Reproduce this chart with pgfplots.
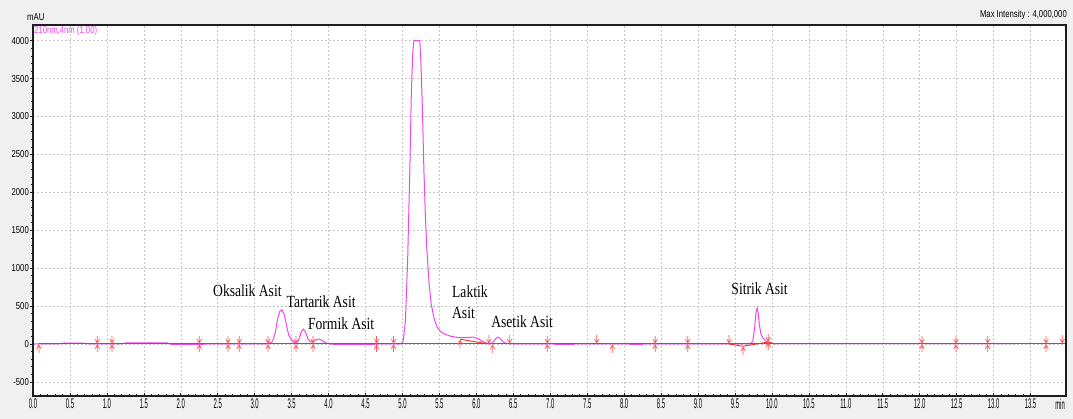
\documentclass[border=0pt]{standalone}
\usepackage{pgfplots}
\pgfplotsset{compat=1.18}
\usepackage{fontspec}
\setmainfont{Liberation Sans}
\newfontfamily\lblfont[FakeStretch=0.77]{Liberation Sans}
\newfontfamily\xlblfont[FakeStretch=0.42]{Liberation Sans}
\newfontfamily\annfont[FakeStretch=0.8]{Liberation Serif}

\definecolor{trace}{RGB}{240,70,240}
\definecolor{basered}{RGB}{255,40,40}
\definecolor{evred}{RGB}{255,90,90}
\definecolor{panel}{RGB}{240,240,240}
\definecolor{gridgray}{RGB}{200,200,200}
\definecolor{framecol}{RGB}{30,30,30}

% integration event marks: both directions, upward only, downward only
\pgfdeclareplotmark{evboth}{%
  \pgfpathmoveto{\pgfpoint{0pt}{-8pt}}\pgfpathlineto{\pgfpoint{0pt}{8pt}}%
  \pgfpathmoveto{\pgfpoint{-2.3pt}{5pt}}\pgfpathlineto{\pgfpoint{0pt}{1pt}}\pgfpathlineto{\pgfpoint{2.3pt}{5pt}}%
  \pgfpathmoveto{\pgfpoint{-2.3pt}{-5pt}}\pgfpathlineto{\pgfpoint{0pt}{-1pt}}\pgfpathlineto{\pgfpoint{2.3pt}{-5pt}}%
  \pgfusepathqstroke}
\pgfdeclareplotmark{evup}{%
  \pgfpathmoveto{\pgfpoint{0pt}{-9pt}}\pgfpathlineto{\pgfpoint{0pt}{-1pt}}%
  \pgfpathmoveto{\pgfpoint{-2.3pt}{-5pt}}\pgfpathlineto{\pgfpoint{0pt}{-1pt}}\pgfpathlineto{\pgfpoint{2.3pt}{-5pt}}%
  \pgfusepathqstroke}
\pgfdeclareplotmark{evdown}{%
  \pgfpathmoveto{\pgfpoint{0pt}{9pt}}\pgfpathlineto{\pgfpoint{0pt}{1pt}}%
  \pgfpathmoveto{\pgfpoint{-2.3pt}{5pt}}\pgfpathlineto{\pgfpoint{0pt}{1pt}}\pgfpathlineto{\pgfpoint{2.3pt}{5pt}}%
  \pgfusepathqstroke}

\begin{document}
\begin{tikzpicture}
\fill[panel] (-33pt,-23pt) rectangle (1040pt,396pt);
\begin{axis}[
  at={(0pt,0pt)}, anchor=south west,
  scale only axis, width=1033pt, height=371pt,
  xmin=0, xmax=13.98, ymin=-686, ymax=4207,
  clip mode=individual,
  axis background/.style={fill=white},
  axis line style={framecol, line width=1.4pt},
  xtick={0,0.5,...,13.5}, minor x tick num=4,
  ytick={-500,0,...,4000}, minor y tick num=4,
  xtick pos=left, ytick pos=left,
  tick align=inside,
  major tick length=3pt, minor tick length=2pt,
  tick style={framecol, line width=0.6pt},
  major y tick style={xshift=-3pt},
  minor y tick style={xshift=-2pt},
  grid=major,
  major grid style={gridgray, dash pattern=on 2pt off 2pt, line width=0.5pt},
  xticklabel style={font=\xlblfont\fontsize{14}{14}\selectfont, inner sep=1.5pt, yshift=-1.5pt,
    /pgf/number format/.cd, fixed, fixed zerofill, precision=1, assume math mode=true},
  yticklabel style={font=\lblfont\fontsize{10}{10}\selectfont, inner sep=1pt, xshift=-3pt,
    /pgf/number format/.cd, 1000 sep={}, assume math mode=true},
]
% chromatogram trace, 210 nm
\addplot[trace, line width=1pt] coordinates {
(0.00,2) (0.08,2) (0.36,3) (0.42,13) (0.66,12) (0.74,3) (1.20,3) (1.26,14) (1.82,13)
(1.88,-6) (2.28,-6) (2.34,0) (3.10,0) (3.18,4) (3.24,30) (3.28,150) (3.31,330) (3.34,430)
(3.37,450) (3.40,390) (3.43,250) (3.46,120) (3.50,50) (3.54,20) (3.57,20) (3.60,60)
(3.63,160) (3.66,195) (3.69,150) (3.72,70) (3.75,30) (3.78,25) (3.82,50) (3.86,65)
(3.89,60) (3.93,35) (3.97,10) (4.02,0) (4.10,-6) (4.60,-6) (4.66,0) (4.98,0) (5.01,40)
(5.04,300) (5.07,1100) (5.10,2300) (5.12,3300) (5.14,3850) (5.155,4000) (5.235,4000)
(5.25,3700) (5.27,3100) (5.29,2300) (5.31,1700) (5.33,1250) (5.36,800) (5.39,520)
(5.43,330) (5.47,220) (5.52,160) (5.58,125) (5.66,100) (5.76,85) (5.86,85) (5.96,90)
(6.02,70) (6.08,35) (6.14,10) (6.18,2) (6.22,15) (6.26,70) (6.29,90) (6.32,75) (6.36,30)
(6.40,8) (6.46,0) (7.05,0) (7.08,-5) (7.30,-5) (7.34,0) (8.06,0) (8.09,-5) (8.24,-5)
(8.27,0) (9.70,0) (9.74,30) (9.765,200) (9.785,420) (9.80,475) (9.815,400) (9.83,250)
(9.85,140) (9.88,75) (9.92,40) (9.96,20) (10.02,6) (10.10,4) (13.30,4)
};
% integration baselines
\addplot[basered, line width=1pt] coordinates {(0.08,0) (13.98,0)};
\addplot[basered, line width=0.9pt] coordinates {(5.78,62) (6.17,0)};
\addplot[basered, line width=0.9pt] coordinates {(9.42,0) (9.61,-30) (9.95,25) (10.05,0)};
% integration events
\addplot[only marks, mark=evboth, mark options={evred, line width=0.7pt}] coordinates {
(0.87,0) (1.07,0) (2.25,0) (2.64,0) (2.79,0) (3.18,0) (3.56,0) (3.79,0) (4.65,0) (4.88,0)
(6.96,0) (8.42,0) (8.86,0) (9.95,25) (12.03,0) (12.49,0) (12.92,0) (13.71,0)
};
\addplot[only marks, mark=evup, mark options={evred, line width=0.7pt}] coordinates {
(0.08,0) (5.78,62) (6.22,0) (7.84,0) (9.61,-30)
};
\addplot[only marks, mark=evdown, mark options={evred, line width=0.7pt}] coordinates {
(6.17,0) (6.45,0) (7.63,0) (9.42,0) (13.93,0)
};
% peak names
\begin{scope}[every node/.style={anchor=base west, inner sep=0pt, font=\annfont\fontsize{17}{17}\selectfont}]
\node at (axis cs:2.436,620) {Oksalik Asit};
\node at (axis cs:3.43,475) {Tartarik Asit};
\node at (axis cs:3.72,185) {Formik Asit};
\node at (axis cs:5.67,607) {Laktik};
\node at (axis cs:5.67,330) {Asit};
\node at (axis cs:6.20,211) {Asetik Asit};
\node at (axis cs:9.45,646) {Sitrik Asit};
\end{scope}
% frame, header and unit texts
\draw[framecol, line width=1.4pt] (rel axis cs:0,0) rectangle (rel axis cs:1,1);
\node[anchor=base west, inner sep=0pt, font=\lblfont\fontsize{10}{10}\selectfont] at (rel axis cs:0,1) [xshift=-6pt, yshift=4pt] {mAU};
\node[anchor=base east, inner sep=0pt, font=\lblfont\fontsize{10}{10}\selectfont] at (rel axis cs:1,1) [xshift=1pt, yshift=7pt] {Max Intensity : 4,000,000};
\node[anchor=base west, inner sep=0pt, text=trace, font=\lblfont\fontsize{10}{10}\selectfont] at (rel axis cs:0,1) [xshift=1pt, yshift=-9pt] {210nm,4nm (1.00)};
\node[anchor=base east, inner sep=0pt, font=\xlblfont\fontsize{14}{14}\selectfont] at (rel axis cs:1,0) [xshift=-1pt, yshift=-14pt] {min};
\end{axis}
\pgfresetboundingbox
\path (-33pt,-23pt) rectangle (1040pt,396pt);
\end{tikzpicture}
\end{document}
